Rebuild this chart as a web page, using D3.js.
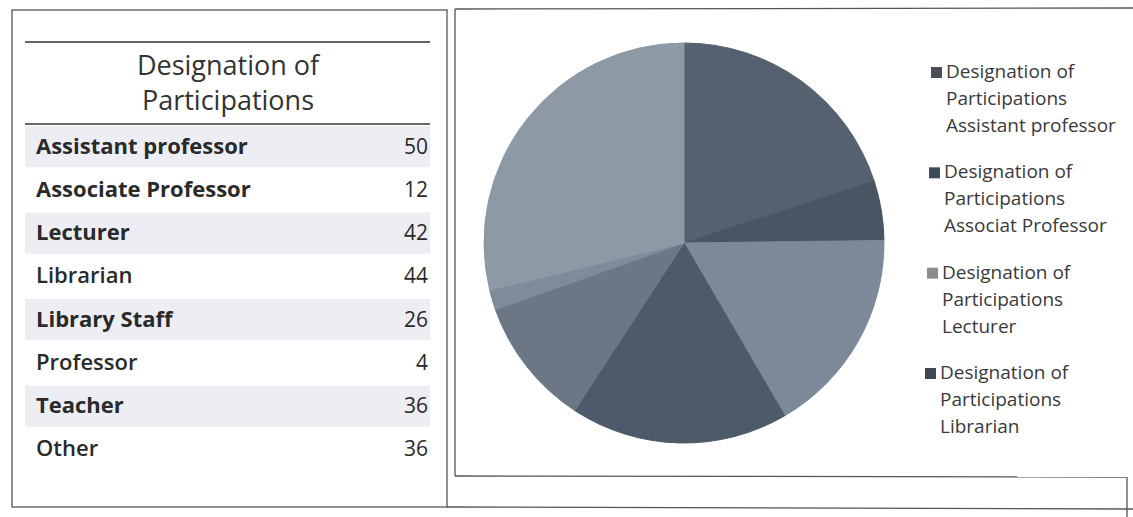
<!DOCTYPE html>
<html>
<head>
<meta charset="utf-8">
<script src="https://cdn.jsdelivr.net/npm/d3@7"></script>
<style>
  html, body { margin: 0; padding: 0; background: #ffffff; }
  svg { display: block; }
  text { font-variant-ligatures: none; }
</style>
</head>
<body>
<svg id="chart" width="1133" height="517"></svg>
<script>
const categories = ["Assistant professor", "Associate Professor", "Lecturer", "Librarian", "Library Staff", "Professor", "Teacher", "Other"];
const values = [50, 12, 42, 44, 26, 4, 36, 36];
const boldRows = [true, true, true, false, true, false, true, false];
const sliceColors = ["#55616f", "#4a5564", "#7b8999", "#4d5a69", "#6c7786", "#808b99", "#8e99a6", "#8e99a6"];
const legendLabels = [
  ["Designation of", "Participations", "Assistant professor"],
  ["Designation of", "Participations", "Associat Professor"],
  ["Designation of", "Participations", "Lecturer"],
  ["Designation of", "Participations", "Librarian"]
];
const legendColors = ["#4a4f57", "#3f4a5a", "#8a8d92", "#3e4753"];
const tableTitle = ["Designation of", "Participations"];

const svg = d3.select("#chart");
const font = "'Open Sans', Lato, sans-serif";
const ink = "#2a2a2a";

// ---------- frames ----------
const frame = svg.append("g").attr("fill", "none").attr("stroke", "#555").attr("stroke-width", 1.3);
frame.append("rect").attr("x", 12).attr("y", 10).attr("width", 435).attr("height", 497);
frame.append("line").attr("x1", 455).attr("y1", 9).attr("x2", 1133).attr("y2", 8);
frame.append("line").attr("x1", 455).attr("y1", 9).attr("x2", 455).attr("y2", 476);
frame.append("line").attr("x1", 455).attr("y1", 476).attr("x2", 1127).attr("y2", 477);
frame.append("line").attr("x1", 1127).attr("y1", 477).attr("x2", 1127).attr("y2", 517);
frame.append("line").attr("x1", 447).attr("y1", 507).attr("x2", 1133).attr("y2", 509);

// ---------- table ----------
const table = svg.append("g");
table.append("line").attr("x1", 25).attr("x2", 430).attr("y1", 42).attr("y2", 42)
  .attr("stroke", "#333").attr("stroke-width", 1.6);
table.append("line").attr("x1", 25).attr("x2", 430).attr("y1", 124).attr("y2", 124)
  .attr("stroke", "#333").attr("stroke-width", 1.6);
table.selectAll("text.title").data(tableTitle).join("text")
  .attr("class", "title")
  .attr("x", 228).attr("y", (d, i) => 75 + i * 35)
  .attr("text-anchor", "middle")
  .attr("font-family", font).attr("font-size", 27).attr("fill", "#333")
  .text(d => d);

const rowY = d3.scaleBand().domain(categories).range([125, 471]).paddingInner(0);
const rows = table.selectAll("g.row").data(categories).join("g").attr("class", "row");
rows.filter((d, i) => i % 2 === 0).append("rect")
  .attr("x", 25).attr("width", 405)
  .attr("y", d => rowY(d) + 1).attr("height", rowY.bandwidth() - 2)
  .attr("fill", "#eceef3");
rows.append("text")
  .attr("x", 36).attr("y", d => rowY(d) + rowY.bandwidth() / 2 + 7)
  .attr("font-family", font).attr("font-size", 22)
  .attr("font-weight", (d, i) => boldRows[i] ? 700 : 600)
  .attr("fill", ink)
  .text(d => d);
rows.append("text")
  .attr("x", 428).attr("y", d => rowY(d) + rowY.bandwidth() / 2 + 7)
  .attr("text-anchor", "end")
  .attr("font-family", font).attr("font-size", 21).attr("font-weight", 500)
  .attr("fill", ink)
  .text((d, i) => values[i]);

// ---------- pie ----------
const cx = 684, cy = 243, r = 200;
const pie = d3.pie().sort(null).value(d => d.v);
const arcs = pie(categories.map((c, i) => ({ c, v: values[i] })));
const arc = d3.arc().innerRadius(0).outerRadius(r);
svg.append("g").attr("transform", `translate(${cx},${cy})`)
  .selectAll("path").data(arcs).join("path")
  .attr("d", arc)
  .attr("fill", (d, i) => sliceColors[i])
  .attr("stroke", (d, i) => sliceColors[i])
  .attr("stroke-width", 1);

// ---------- legend ----------
const legY = d3.scalePoint().domain(d3.range(legendLabels.length)).range([62, 363]);
const leg = svg.append("g").selectAll("g").data(legendLabels).join("g")
  .attr("transform", (d, i) => `translate(${931 - i * 2},${legY(i)})`);
leg.append("rect").attr("x", 0).attr("y", 5).attr("width", 11).attr("height", 11)
  .attr("fill", (d, i) => legendColors[i]);
leg.selectAll("text").data(d => d).join("text")
  .attr("x", 15).attr("y", (d, j) => 16 + j * 27)
  .attr("font-family", font).attr("font-size", 19).attr("fill", "#3a3a3a")
  .text(d => d);
</script>
</body>
</html>
